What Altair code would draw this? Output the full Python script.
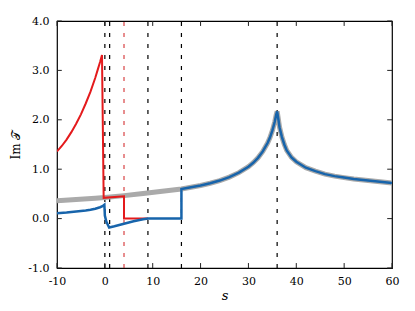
import altair as alt
import pandas as pd

# ---- data ----
red_s = [-10, -9, -8, -7, -6, -5, -4, -3, -2, -1.5, -1.0, -0.6, -0.25, 4.0, 4.0, 9.0]
red_v = [1.36, 1.47, 1.60, 1.75, 1.92, 2.11, 2.33, 2.57, 2.85, 3.01, 3.17, 3.31, 0.42, 0.45, 0.0, 0.0]

blue_s = [-10, -8, -6, -4, -3, -2, -1.5, -1, -0.5, -0.1, 0.0, 0.3, 0.9, 2, 3, 4, 5, 6, 7, 8, 9,
          16, 16, 18, 20, 22, 24, 26, 28, 30, 31, 32, 33, 34, 34.5, 35, 35.5, 35.8, 36.0,
          36.2, 36.5, 37, 37.5, 38, 39, 40, 42, 44, 46, 48, 50, 52, 54, 56, 58, 60]
blue_v = [0.11, 0.125, 0.145, 0.165, 0.18, 0.20, 0.215, 0.23, 0.25, 0.28, 0.06, -0.06, -0.18,
          -0.155, -0.13, -0.105, -0.08, -0.055, -0.035, -0.015, 0.0,
          0.0, 0.60, 0.635, 0.67, 0.715, 0.77, 0.84, 0.93, 1.05, 1.13, 1.23, 1.36, 1.53, 1.64,
          1.78, 1.96, 2.10, 2.17, 2.05, 1.85, 1.65, 1.50, 1.38, 1.24, 1.15, 1.03, 0.96, 0.90,
          0.86, 0.83, 0.80, 0.78, 0.76, 0.74, 0.72]

gray_s = [-10, -6, -2, 0, 4, 8, 12, 16, 18, 20, 22, 24, 26, 28, 30, 31, 32, 33, 34, 34.5, 35,
          35.5, 35.8, 36.0, 36.2, 36.5, 37, 37.5, 38, 39, 40, 42, 44, 46, 48, 50, 52, 54, 56, 58, 60]
gray_v = [0.36, 0.385, 0.41, 0.425, 0.465, 0.51, 0.555, 0.60, 0.635, 0.67, 0.715, 0.77, 0.84,
          0.93, 1.05, 1.13, 1.23, 1.36, 1.53, 1.64, 1.78, 1.96, 2.10, 2.17, 2.05, 1.85, 1.65,
          1.50, 1.38, 1.24, 1.15, 1.03, 0.96, 0.90, 0.86, 0.83, 0.80, 0.78, 0.76, 0.74, 0.72]

black_thresholds = [0, 1, 9, 16, 36]
red_thresholds = [4]

x_ticks = [-10, 0, 10, 20, 30, 40, 50, 60]
y_ticks = [-1, 0, 1, 2, 3, 4]

X_DOM = [-10, 60]
Y_DOM = [-1, 4]
FONT = "DejaVu Serif"


def series_df(s, v):
    return pd.DataFrame({"s": s, "v": v, "i": list(range(len(s)))})


xs = alt.Scale(domain=X_DOM, nice=False, zero=False)
ys = alt.Scale(domain=Y_DOM, nice=False, zero=False)

x_axis = alt.Axis(values=x_ticks, ticks=False, domain=False, grid=False, labelFlush=False,
                  labelFont=FONT, labelFontSize=11, labelColor="black", labelPadding=7,
                  labelExpr="datum.value < 0 ? '-' + format(abs(datum.value), 'd') : format(datum.value, 'd')",
                  title="s", titleFont=FONT, titleFontStyle="italic", titleFontWeight="normal",
                  titleFontSize=13, titleColor="black", titleY=31, titleBaseline="alphabetic")
y_axis = alt.Axis(values=y_ticks, ticks=False, domain=False, grid=False, labelFlush=False,
                  labelFont=FONT, labelFontSize=11, labelColor="black", labelPadding=8,
                  labelExpr="datum.value < 0 ? '-' + format(abs(datum.value), '.1f') : format(datum.value, '.1f')",
                  title="Im 𝒯", titleFont=FONT, titleFontWeight="normal", titleFontSize=12,
                  titleColor="black", titleX=-38, titleBaseline="alphabetic", titleAngle=270)

vdf_black = pd.DataFrame({"s": black_thresholds, "lo": [Y_DOM[0]] * len(black_thresholds),
                          "hi": [Y_DOM[1]] * len(black_thresholds)})
vdf_red = pd.DataFrame({"s": red_thresholds, "lo": [Y_DOM[0]] * len(red_thresholds),
                        "hi": [Y_DOM[1]] * len(red_thresholds)})

vblack = alt.Chart(vdf_black).mark_rule(color="black", strokeWidth=1.2, strokeDash=[4, 7]).encode(
    x=alt.X("s:Q", scale=xs, axis=x_axis), y=alt.Y("lo:Q", scale=ys, axis=y_axis), y2="hi:Q")
vred = alt.Chart(vdf_red).mark_rule(color="#d01c1f", strokeWidth=1.0, strokeDash=[4, 7]).encode(
    x=alt.X("s:Q", scale=xs), y=alt.Y("lo:Q", scale=ys), y2="hi:Q")


def line(s, v, color, width):
    return alt.Chart(series_df(s, v)).mark_line(color=color, strokeWidth=width, clip=True).encode(
        x=alt.X("s:Q", scale=xs), y=alt.Y("v:Q", scale=ys), order="i:Q")


gray = line(gray_s, gray_v, "#aaaaaa", 5)
red = line(red_s, red_v, "#e41a1c", 2)
blue = line(blue_s, blue_v, "#1764ab", 2.5)

# inward tick marks on all four sides
tick_len_y = 0.1   # data units on y
tick_len_x = 1.0   # data units on x
bt = pd.DataFrame({"s": x_ticks, "a": [Y_DOM[0]] * len(x_ticks), "b": [Y_DOM[0] + tick_len_y] * len(x_ticks)})
tt = pd.DataFrame({"s": x_ticks, "a": [Y_DOM[1]] * len(x_ticks), "b": [Y_DOM[1] - tick_len_y] * len(x_ticks)})
lt = pd.DataFrame({"v": y_ticks, "a": [X_DOM[0]] * len(y_ticks), "b": [X_DOM[0] + tick_len_x] * len(y_ticks)})
rt = pd.DataFrame({"v": y_ticks, "a": [X_DOM[1]] * len(y_ticks), "b": [X_DOM[1] - tick_len_x] * len(y_ticks)})

tick_style = dict(color="#222222", strokeWidth=1)
ticks_b = alt.Chart(bt).mark_rule(**tick_style).encode(x=alt.X("s:Q", scale=xs), y=alt.Y("a:Q", scale=ys), y2="b:Q")
ticks_t = alt.Chart(tt).mark_rule(**tick_style).encode(x=alt.X("s:Q", scale=xs), y=alt.Y("a:Q", scale=ys), y2="b:Q")
ticks_l = alt.Chart(lt).mark_rule(**tick_style).encode(y=alt.Y("v:Q", scale=ys), x=alt.X("a:Q", scale=xs), x2="b:Q")
ticks_r = alt.Chart(rt).mark_rule(**tick_style).encode(y=alt.Y("v:Q", scale=ys), x=alt.X("a:Q", scale=xs), x2="b:Q")

chart = alt.layer(vblack, vred, gray, red, blue, ticks_b, ticks_t, ticks_l, ticks_r).properties(
    width=335, height=247,
    autosize=alt.AutoSizeParams(type="none"),
    padding={"left": 49, "top": 13, "right": 15, "bottom": 35},
    background="white",
).configure_view(stroke="black", strokeWidth=1.2)

chart.save("out.html", embed_options={"renderer": "svg", "actions": False})
